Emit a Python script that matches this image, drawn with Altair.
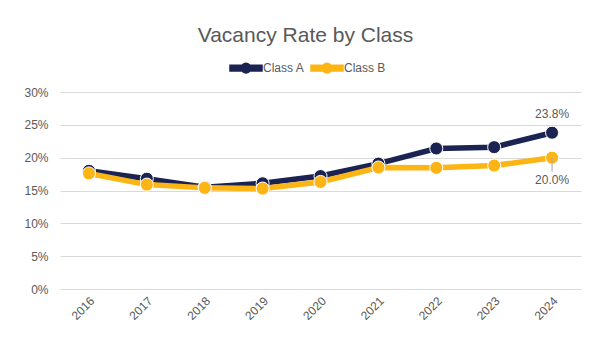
import altair as alt
import pandas as pd

years = ["2016", "2017", "2018", "2019", "2020", "2021", "2022", "2023", "2024"]
class_a = [18.0, 16.8, 15.5, 16.1, 17.2, 19.1, 21.4, 21.6, 23.8]
class_b = [17.6, 15.9, 15.4, 15.3, 16.3, 18.5, 18.45, 18.8, 20.0]
series = ["Class A", "Class B"]
colors = ["#1b2352", "#fdb515"]
y_ticks = [0, 0.05, 0.10, 0.15, 0.20, 0.25, 0.30]

rows = []
for s, vals in zip(series, [class_a, class_b]):
    for yr, v in zip(years, vals):
        rows.append({"Year": yr, "Class": s, "Rate": v / 100})
df = pd.DataFrame(rows)

FONT = "Liberation Sans"
GREY = "#595959"

legend_path = (
    "M-1,-0.18H1V0.18H-1Z "
    "M-0.3,0A0.3,0.3 0 1,1 0.3,0A0.3,0.3 0 1,1 -0.3,0Z"
)

x_enc = alt.X(
    "Year:N",
    sort=years,
    title=None,
    axis=alt.Axis(labelAngle=-45, labelFontSize=12, labelColor=GREY, labelFont=FONT,
                  ticks=False, domain=False, grid=False, labelPadding=6),
)
y_enc = alt.Y(
    "Rate:Q",
    title=None,
    scale=alt.Scale(domain=[0, 0.3]),
    axis=alt.Axis(values=y_ticks, format=".0%", labelFontSize=12, labelColor=GREY,
                  labelFont=FONT, ticks=False, domain=False, gridColor="#d9d9d9",
                  gridWidth=1, labelPadding=12),
)
color_scale = alt.Scale(domain=series, range=colors)
legend = alt.Legend(
    orient="none", direction="horizontal", legendX=169, legendY=-41,
    symbolType=legend_path, symbolSize=1024, symbolStrokeColor="white",
    symbolFillColor="#1b2352",
    symbolStrokeWidth=1.5, labelFontSize=12, labelColor=GREY, labelFont=FONT,
    labelOffset=0, columnPadding=3, padding=0,
)
color_enc = alt.Color("Class:N", scale=color_scale, title=None, legend=legend)

base = alt.Chart(df)

lines = base.mark_line(strokeWidth=5.5).encode(x=x_enc, y=y_enc, color=color_enc)

points = base.mark_point(filled=True, size=170, opacity=1, stroke="white", strokeWidth=1).encode(
    x=x_enc, y=y_enc,
    fill=alt.Fill("Class:N", scale=color_scale, legend=None),
    order=alt.Order("Class:N"),
)

last_b = base.transform_filter(
    (alt.datum.Year == "2024") & (alt.datum.Class == "Class B")
)
last_a = base.transform_filter(
    (alt.datum.Year == "2024") & (alt.datum.Class == "Class A")
)

leader = last_b.mark_rule(color="#a6a6a6", strokeWidth=1, y2Offset=14).encode(
    x=x_enc, y=y_enc, y2=alt.Y2("Rate:Q")
)

label_a = last_a.mark_text(dy=-19, fontSize=12, color=GREY, font=FONT).encode(
    x=x_enc, y=y_enc, text=alt.Text("Rate:Q", format=".1%"),
)

label_b = last_b.mark_text(dy=22, fontSize=12, color=GREY, font=FONT).encode(
    x=x_enc, y=y_enc, text=alt.Text("Rate:Q", format=".1%"),
)

chart = alt.layer(lines, points, leader, label_a, label_b).properties(
    width=521,
    height=197,
    view=alt.ViewBackground(stroke="transparent", strokeWidth=0),
    title=alt.TitleParams("Vacancy Rate by Class", fontSize=21, color=GREY, font=FONT,
                          fontWeight="normal", anchor="middle", dx=-15, offset=5),
    autosize=alt.AutoSizeParams(type="none"),
    padding={"left": 60, "top": 92, "right": 18, "bottom": 62},
).configure_view(
    stroke=None, strokeWidth=0
).configure_axis(
    domain=False, ticks=False
).configure_axisX(grid=False).configure(
    background="white", style={"cell": {"stroke": "transparent", "strokeWidth": 0}}
)

chart.save("out.html", embed_options={"renderer": "svg", "actions": False})
